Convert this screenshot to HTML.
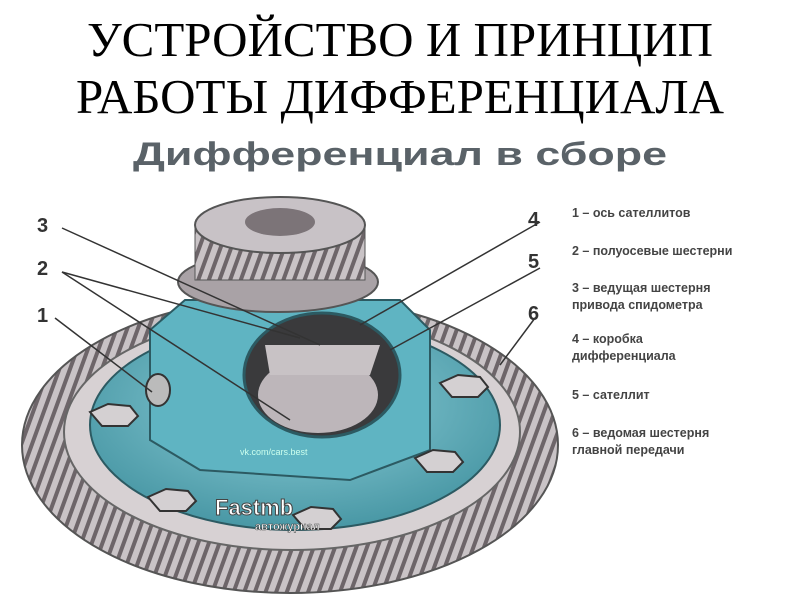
<!DOCTYPE html>
<html><head><meta charset="utf-8"><style>
body{margin:0;width:800px;height:600px;background:#fff;overflow:hidden;position:relative;font-family:"Liberation Sans","Noto Sans CJK SC",sans-serif}
.t{position:absolute;left:0;width:800px;text-align:center;font-family:"Liberation Serif","Noto Serif CJK SC",serif;font-size:49px;color:#000;line-height:56px}
.sub{position:absolute;left:0;width:800px;text-align:center;top:136px;font-size:32px;font-weight:bold;color:#5a6268;transform:scaleX(1.4);transform-origin:400px 0}
.lg{position:absolute;left:572px;font-size:12.5px;color:#444;line-height:17px;font-weight:bold}
</style></head><body>
<div class="t" style="top:12px">УСТРОЙСТВО И ПРИНЦИП</div>
<div class="t" style="top:69px">РАБОТЫ ДИФФЕРЕНЦИАЛА</div>
<div class="sub">Дифференциал в сборе</div>
<svg width="800" height="600" style="position:absolute;left:0;top:0">
<defs>
<pattern id="teeth" width="10" height="12" patternUnits="userSpaceOnUse" patternTransform="rotate(20)"><rect width="10" height="12" fill="#c9c3c6"/><rect width="4" height="12" fill="#6d6569"/></pattern>
<radialGradient id="tl" cx="0.5" cy="0.4" r="0.7"><stop offset="0" stop-color="#8fd0da"/><stop offset="1" stop-color="#3d8e9c"/></radialGradient>
</defs>
<ellipse cx="290" cy="445" rx="268" ry="148" fill="url(#teeth)" stroke="#555" stroke-width="2"/>
<ellipse cx="292" cy="432" rx="228" ry="118" fill="#d7d1d3" stroke="#666" stroke-width="2"/>
<ellipse cx="295" cy="425" rx="205" ry="105" fill="url(#tl)" stroke="#2c5a62" stroke-width="2"/>
<path d="M150 330 L185 300 L400 300 L430 330 L430 450 L350 480 L200 470 L150 440 Z" fill="#5fb4c2" stroke="#2c5a62" stroke-width="2"/>
<ellipse cx="322" cy="375" rx="78" ry="62" fill="#3a3a3c" stroke="#2c5a62" stroke-width="3"/>
<ellipse cx="318" cy="395" rx="60" ry="38" fill="#bdb6ba"/>
<path d="M265 345 L380 345 L370 375 L270 375 Z" fill="#c8c2c5"/>
<ellipse cx="278" cy="282" rx="100" ry="30" fill="#a9a2a6" stroke="#555" stroke-width="2"/>
<rect x="195" y="225" width="170" height="55" fill="url(#teeth)" stroke="#555"/>
<ellipse cx="280" cy="225" rx="85" ry="28" fill="#c8c2c6" stroke="#555" stroke-width="2"/>
<ellipse cx="280" cy="222" rx="35" ry="14" fill="#7c7478"/>
<g fill="#d4d0d2" stroke="#333" stroke-width="2">
<path d="M90 412 l18 -8 l22 2 l8 10 l-10 10 l-26 0 z"/><path d="M148 497 l18 -8 l22 2 l8 10 l-10 10 l-26 0 z"/>
<path d="M293 515 l18 -8 l22 2 l8 10 l-10 10 l-26 0 z"/><path d="M415 458 l18 -8 l22 2 l8 10 l-10 10 l-26 0 z"/>
<path d="M440 383 l18 -8 l22 2 l8 10 l-10 10 l-26 0 z"/>
</g>
<ellipse cx="158" cy="390" rx="12" ry="16" fill="#bbb" stroke="#333" stroke-width="2"/>
<g stroke="#333" stroke-width="1.5" fill="none">
<line x1="62" y1="228" x2="320" y2="345"/><line x1="62" y1="272" x2="300" y2="338"/>
<line x1="62" y1="272" x2="290" y2="420"/><line x1="55" y1="318" x2="152" y2="392"/>
<line x1="540" y1="222" x2="360" y2="325"/><line x1="540" y1="268" x2="390" y2="350"/>
<line x1="535" y1="318" x2="500" y2="365"/>
</g>
<g font-family="Liberation Sans,sans-serif" font-size="20" font-weight="bold" fill="#333">
<text x="37" y="232">3</text><text x="37" y="275">2</text><text x="37" y="322">1</text>
<text x="528" y="226">4</text><text x="528" y="268">5</text><text x="528" y="320">6</text>
</g>
<text x="240" y="455" font-size="9" fill="#cfe" font-family="Liberation Sans,sans-serif">vk.com/cars.best</text>
<text x="215" y="515" font-size="22" font-weight="bold" fill="#fff" stroke="#444" stroke-width="1" font-family="Liberation Sans,sans-serif">Fastmb</text>
<text x="255" y="530" font-size="11" font-weight="bold" fill="#fff" stroke="#444" stroke-width="0.5" font-family="Liberation Sans,sans-serif">автожурнал</text>
</svg>
<div class="lg" style="top:205px">1 – ось сателлитов</div>
<div class="lg" style="top:243px">2 – полуосевые шестерни</div>
<div class="lg" style="top:280px">3 – ведущая шестерня<br>привода спидометра</div>
<div class="lg" style="top:331px">4 – коробка<br>дифференциала</div>
<div class="lg" style="top:387px">5 – сателлит</div>
<div class="lg" style="top:425px">6 – ведомая шестерня<br>главной передачи</div>
</body></html>
